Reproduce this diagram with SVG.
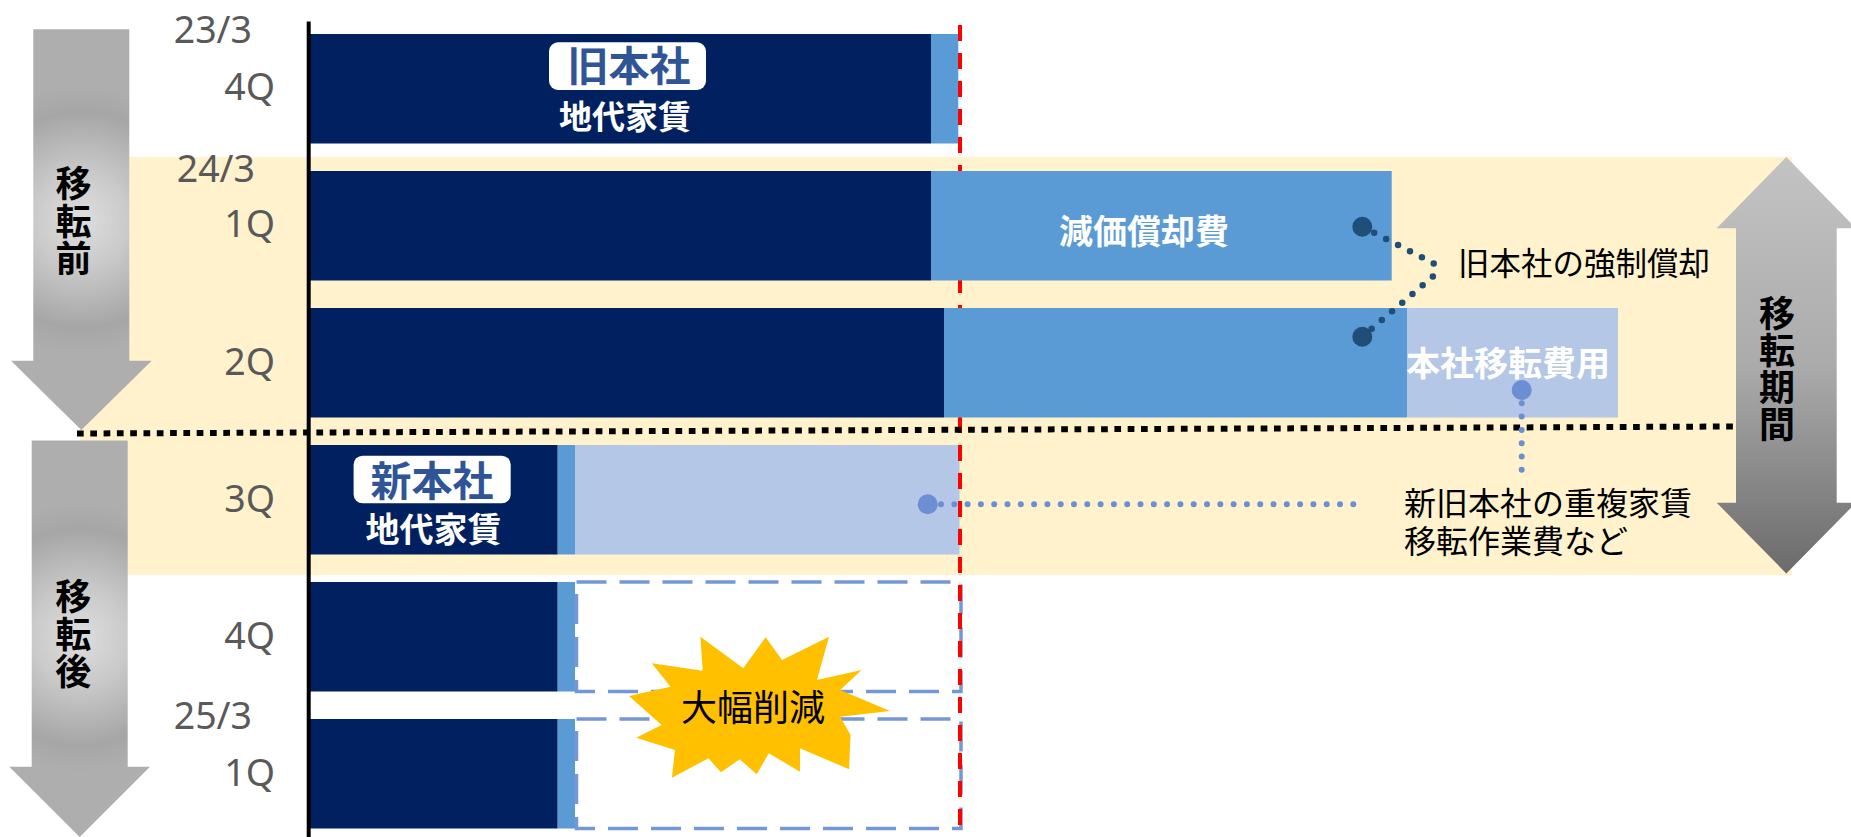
<svg xmlns="http://www.w3.org/2000/svg" width="1851" height="837" viewBox="0 0 1851 837">
<defs>
<radialGradient id="gArrow1" gradientUnits="userSpaceOnUse" cx="81" cy="220" r="135">
<stop offset="0" stop-color="#DEDEDE"/>
<stop offset="0.35" stop-color="#CACACA"/>
<stop offset="0.8" stop-color="#A6A6A6"/>
<stop offset="1" stop-color="#AEAEAE"/>
</radialGradient>
<radialGradient id="gArrow2" gradientUnits="userSpaceOnUse" cx="80" cy="637" r="135">
<stop offset="0" stop-color="#DEDEDE"/>
<stop offset="0.35" stop-color="#CACACA"/>
<stop offset="0.8" stop-color="#A6A6A6"/>
<stop offset="1" stop-color="#AEAEAE"/>
</radialGradient>
<linearGradient id="gArrow3" x1="0" y1="0" x2="0" y2="1">
<stop offset="0" stop-color="#C3C3C3"/>
<stop offset="0.5" stop-color="#ABABAB"/>
<stop offset="1" stop-color="#6B6B6B"/>
</linearGradient>
<style>
.navy{fill:#002060}
.blue{fill:#5B9BD5}
.pale{fill:#B4C7E7}
.num{font-family:"Noto Sans","Open Sans",sans-serif;font-size:37.5px;fill:#595959;text-anchor:end}
.jp{font-family:"Noto Sans CJK JP",sans-serif}
.bw{font-weight:700;fill:#FFFFFF;text-anchor:middle}
.vt{font-family:"Noto Sans CJK JP",sans-serif;font-weight:700;font-size:36px;fill:#000;text-anchor:middle;writing-mode:vertical-rl;letter-spacing:1.3px}
.note{font-family:"Noto Sans CJK JP",sans-serif;font-weight:400;fill:#000}
.dash{fill:#FFFFFF;stroke:#7597D6;stroke-width:3.5;stroke-dasharray:30 13}
.ddot{fill:none;stroke:#1F4E79;stroke-width:6.5;stroke-linecap:round;stroke-dasharray:0 13.4}
.ldot{fill:none;stroke:#6C8ED3;stroke-width:6;stroke-linecap:round;stroke-dasharray:0 13.3}
</style>
</defs>

<rect id="period-band" x="80" y="157" width="1712" height="418" fill="#FFF2CC"/>

<g id="arrow-before">
<polygon points="33.3,29.3 129.3,29.3 129.3,360.7 151.7,360.7 81.3,430 11,360.7 33.3,360.7" fill="url(#gArrow1)"/>
<text class="vt" x="73.5" y="221.5">移転前</text>
</g>

<g id="arrow-after">
<polygon points="31.7,440.5 127.7,440.5 127.7,766.7 150,766.7 79.7,837 9.3,766.7 31.7,766.7" fill="url(#gArrow2)"/>
<text class="vt" x="73.3" y="634.5">移転後</text>
</g>

<g id="axis-labels">
<text class="num" x="252" y="42.7">23/3</text>
<text class="num" x="275" y="100">4Q</text>
<text class="num" x="255" y="181.7">24/3</text>
<text class="num" x="275" y="237.3">1Q</text>
<text class="num" x="275" y="375">2Q</text>
<text class="num" x="275" y="511.7">3Q</text>
<text class="num" x="275" y="649.3">4Q</text>
<text class="num" x="252" y="729.3">25/3</text>
<text class="num" x="275" y="786">1Q</text>
</g>

<g id="bar-23-4Q">
<rect class="navy" x="309" y="34" width="622" height="109.5"/>
<rect class="blue" x="931" y="34" width="27.3" height="109.5"/>
<rect x="549" y="42.3" width="157" height="47.7" rx="9" fill="#FFFFFF"/>
<text class="jp" x="629" y="81.3" font-size="41" font-weight="700" fill="#2F5597" text-anchor="middle">旧本社</text>
<text class="jp bw" x="625" y="129" font-size="33">地代家賃</text>
</g>

<g id="bar-24-3Q">
<rect class="navy" x="309" y="445" width="248.7" height="109.5"/>
<rect class="blue" x="557.7" y="445" width="17.3" height="109.5"/>
<rect class="pale" x="575" y="445" width="384.5" height="109.5"/>
<rect x="353.6" y="455.7" width="157.1" height="47.6" rx="9" fill="#FFFFFF"/>
<text class="jp" x="432" y="495.5" font-size="41" font-weight="700" fill="#2F5597" text-anchor="middle">新本社</text>
<text class="jp bw" x="433.5" y="541.5" font-size="34">地代家賃</text>
</g>

<g id="bar-24-4Q">
<rect class="navy" x="309" y="582" width="248.7" height="109.5"/>
<rect class="blue" x="557.7" y="582" width="17.3" height="109.5"/>
<rect class="dash" x="576.5" y="582" width="384.5" height="109.5"/>
</g>

<g id="bar-25-1Q">
<rect class="navy" x="309" y="719" width="248.7" height="109.5"/>
<rect class="blue" x="557.7" y="719" width="17.3" height="109.5"/>
<rect class="dash" x="576.5" y="719" width="384.5" height="109.5"/>
</g>

<line id="reference-line" x1="960" y1="25" x2="960" y2="837" stroke="#FF0000" stroke-width="4" stroke-dasharray="16 12"/>

<g id="bar-24-1Q">
<rect class="navy" x="309" y="171" width="622" height="109.5"/>
<rect class="blue" x="931" y="171" width="460.7" height="109.5"/>
<text class="jp bw" x="1144" y="244" font-size="34">減価償却費</text>
</g>

<g id="bar-24-2Q">
<rect class="navy" x="309" y="308" width="635" height="109.5"/>
<rect class="blue" x="944" y="308" width="463" height="109.5"/>
<rect class="pale" x="1407" y="308" width="211" height="109.5"/>
<text class="jp bw" x="1508" y="376" font-size="34">本社移転費用</text>
</g>

<line id="divider" x1="77" y1="433.5" x2="1735" y2="426.5" stroke="#000" stroke-width="6" stroke-dasharray="6.7 6.6"/>

<g id="axis">
<line x1="308.7" y1="21.5" x2="308.7" y2="837" stroke="#000" stroke-width="4"/>
</g>

<g id="arrow-period">
<polygon points="1786.3,157 1856,228.3 1836.7,228.3 1836.7,502.7 1856,502.7 1786.3,573.5 1716.7,502.7 1736,502.7 1736,228.3 1716.7,228.3" fill="url(#gArrow3)"/>
<text class="vt" x="1777" y="369.5">移転期間</text>
</g>

<g id="connectors">
<path class="ddot" d="M1362.3,226.7 L1433.7,263.3 L1433.5,276 L1362.3,336.7"/>
<circle cx="1362.3" cy="226.7" r="10" fill="#1F4E79"/>
<circle cx="1362.3" cy="336.7" r="10" fill="#1F4E79"/>
<path class="ldot" d="M1521.7,390 L1521.7,470"/>
<circle cx="1521.7" cy="390" r="10" fill="#6C8ED3"/>
<path class="ldot" d="M927.7,504.3 L1355,504.3"/>
<circle cx="927.7" cy="504.3" r="10" fill="#6C8ED3"/>
</g>

<g id="note-writeoff">
<text class="note" x="1458" y="275" font-size="31.5">旧本社の強制償却</text>
</g>

<g id="note-overlap">
<text class="note" x="1404" y="515" font-size="32">新旧本社の重複家賃</text>
<text class="note" x="1404" y="552.5" font-size="32">移転作業費など</text>
</g>

<g id="burst">
<polygon points="651.8,663.3 702.7,670.7 700.4,636.7 743.3,668.3 765.6,637.3 782.1,660 829,636.7 817,680 861.6,670 840.2,690 890,711 840.2,716.7 850.5,735 849.1,769.3 800,748.3 800,771.7 768.8,753.3 756.7,774.3 739.7,759.3 721,772.3 708.5,758.3 671.9,777.7 675,750 636.2,737.7 661.6,725 629,696 670.5,686.7" fill="#FFC000"/>
<text class="jp" x="753" y="720.5" font-size="36" fill="#000" text-anchor="middle">大幅削減</text>
</g>
</svg>
